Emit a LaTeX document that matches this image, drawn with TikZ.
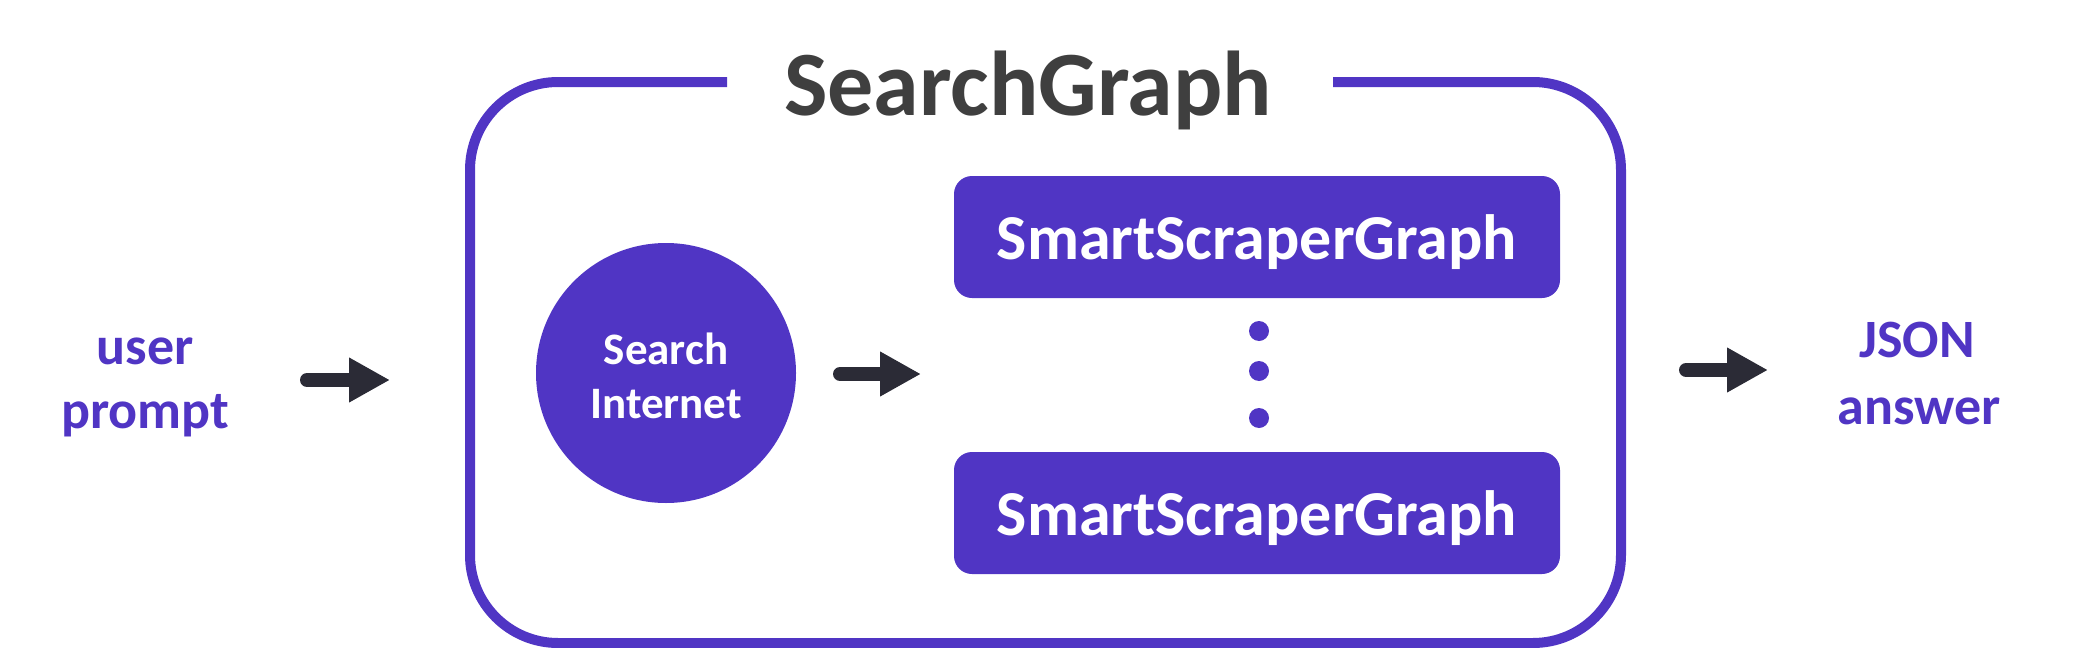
\documentclass[tikz,border=0pt]{standalone}
\usepackage{fontspec}
\setmainfont{Carlito}
\usetikzlibrary{arrows.meta}
\definecolor{sgpurple}{HTML}{5035C4}
\definecolor{sgtitle}{HTML}{3F3F3F}
\definecolor{sgarrow}{HTML}{2B2B36}
\begin{document}
\begin{tikzpicture}[x=0.5pt,y=-0.5pt,
  lbl/.style={font=\bfseries\fontsize{27pt}{30pt}\selectfont, text=sgpurple, anchor=base, inner sep=0pt},
  titletxt/.style={font=\bfseries\fontsize{46pt}{50pt}\selectfont, text=sgtitle, anchor=base, inner sep=0pt},
  boxtxt/.style={font=\bfseries\fontsize{32pt}{36pt}\selectfont, text=white, anchor=base, inner sep=0pt},
  circtxt/.style={font=\bfseries\fontsize{22.5pt}{25pt}\selectfont, text=white, anchor=base, inner sep=0pt},
  sgbox/.style={fill=sgpurple, rounded corners=9pt, minimum width=303pt, minimum height=61pt, inner sep=0pt, draw=none},
  sgcirc/.style={circle, fill=sgpurple, minimum size=130pt, inner sep=0pt},
  sgdot/.style={circle, fill=sgpurple, minimum size=10pt, inner sep=0pt},
  arr/.style={draw=sgarrow, line width=7pt, line cap=round, -{Triangle[length=20.5pt,width=21pt]}}
]
\useasboundingbox (0,0) rectangle (2084,648);

% frame
\draw[sgpurple, line width=5pt, rounded corners=44pt]
  (727,82) -- (470,82) -- (470,643) -- (1621,643) -- (1621,82) -- (1333,82);
\node[titletxt] (title) at (1028,115) {SearchGraph};

% inputs / outputs
\node[lbl] (user) at (145,364) {user};
\node[lbl] (prompt) at (145,428) {prompt};
\node[lbl] (json) at (1917,357) {JSON};
\node[lbl] (answer) at (1919,424) {answer};

% search internet
\node[sgcirc] (search) at (666,373) {};
\node[circtxt] (s1) at (666,364) {Search};
\node[circtxt] (s2) at (666,418) {Internet};

% boxes
\node[sgbox] (box1) at (1257,237) {};
\node[boxtxt] (b1t) at (1257,259) {SmartScraperGraph};
\node[sgbox] (box2) at (1257,513) {};
\node[boxtxt] (b2t) at (1257,535) {SmartScraperGraph};

% dots
\node[sgdot] (d1) at (1259,331) {};
\node[sgdot] (d2) at (1259,371) {};
\node[sgdot] (d3) at (1259,418) {};

% arrows
\coordinate (a1s) at (307,380);
\coordinate (a1e) at (390,380);
\coordinate (a2s) at (840,374);
\coordinate (a2e) at (921,374);
\coordinate (a3s) at (1686,370);
\coordinate (a3e) at (1768,370);
\draw[arr] (a1s) -- (a1e);
\draw[arr] (a2s) -- (a2e);
\draw[arr] (a3s) -- (a3e);
\end{tikzpicture}
\end{document}
